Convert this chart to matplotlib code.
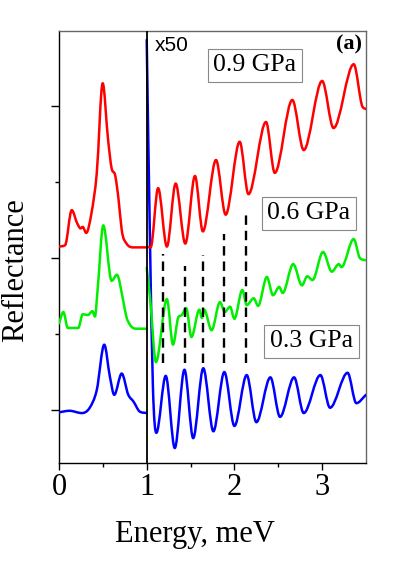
import numpy as np
import matplotlib
matplotlib.use("Agg")
import matplotlib.pyplot as plt
from matplotlib.path import Path
from matplotlib.patches import PathPatch

plt.rcParams["font.family"] = ["Liberation Serif", "DejaVu Serif"]

# ── DATA (energy in meV, reflectance in arb. units, curves offset) ───────────
# 0.3 GPa (blue)
blue_left_x = [0.0, 0.12, 0.26, 0.35, 0.43, 0.516, 0.58, 0.63, 0.715, 0.79, 0.85, 0.92, 1.0]
blue_left_y = [-0.03, -0.01, -0.04, 0.03, 0.26, 0.86, 0.44, 0.20, 0.48, 0.20, 0.11, -0.02, -0.04]
blue_right_x = [1.0, 1.035, 1.07, 1.11, 1.217, 1.32, 1.43, 1.53, 1.645, 1.76, 1.885, 2.0,
                2.14, 2.25, 2.41, 2.52, 2.68, 2.79, 2.98, 3.09, 3.29, 3.39, 3.5]
blue_right_y = [4.87, 2.37, 0.33, -0.30, 0.45, -0.50, 0.53, -0.37, 0.55, -0.28, 0.50, -0.21,
                0.46, -0.16, 0.43, -0.09, 0.43, -0.04, 0.46, 0.03, 0.49, 0.09, 0.20]

# 0.6 GPa (green)
green_left_x = [0.0, 0.05, 0.10, 0.22, 0.27, 0.33, 0.38, 0.41, 0.44, 0.505, 0.60, 0.66,
                0.73, 0.77, 0.81, 0.885, 1.0]
green_left_y = [1.14, 1.29, 1.08, 1.08, 1.26, 1.25, 1.30, 1.23, 1.58, 2.43, 1.70, 1.78,
                1.45, 1.22, 1.12, 1.07, 1.07]
green_right_x = [1.0, 1.04, 1.105, 1.23, 1.30, 1.36, 1.40, 1.45, 1.51, 1.60, 1.63, 1.655,
                 1.74, 1.835, 1.89, 1.95, 2.0, 2.09, 2.14, 2.22, 2.27, 2.37, 2.44, 2.51,
                 2.55, 2.67, 2.77, 2.83, 2.89, 3.01, 3.11, 3.19, 3.22, 3.36, 3.43, 3.5]
green_right_y = [1.87, 1.45, 0.63, 1.46, 0.86, 1.22, 1.25, 1.34, 0.96, 1.32, 1.21, 1.32,
                 1.05, 1.42, 1.29, 1.36, 1.20, 1.58, 1.38, 1.47, 1.37, 1.75, 1.51, 1.62,
                 1.54, 1.92, 1.64, 1.76, 1.71, 2.08, 1.82, 1.92, 1.88, 2.25, 2.00, 1.97]

# 0.9 GPa (red)
red_left_x = [0.0, 0.07, 0.145, 0.21, 0.245, 0.27, 0.31, 0.37, 0.43, 0.498, 0.56, 0.60,
              0.64, 0.68, 0.715, 0.77, 0.85, 1.0]
red_left_y = [2.15, 2.17, 2.63, 2.45, 2.39, 2.41, 2.33, 2.59, 3.11, 4.30, 3.55, 3.18,
              3.09, 2.76, 2.37, 2.19, 2.14, 2.14]
red_right_x = [1.0, 1.045, 1.13, 1.23, 1.33, 1.44, 1.55, 1.64, 1.79, 1.90, 2.06, 2.16,
               2.36, 2.46, 2.66, 2.79, 3.00, 3.13, 3.36, 3.46, 3.5]
red_right_y = [2.15, 2.14, 2.92, 2.15, 2.98, 2.19, 3.08, 2.35, 3.29, 2.57, 3.53, 2.84,
               3.79, 3.12, 4.08, 3.42, 4.33, 3.71, 4.55, 3.99, 3.96]

# dashed guide lines
dash_x = [1.19, 1.44, 1.645, 1.88, 2.13]
dash_top = [2.05, 1.89, 2.04, 2.32, 2.62]
dash_bottom = 0.62

labels = ["0.3 GPa", "0.6 GPa", "0.9 GPa"]
label_x = [2.881, 2.848, 2.235]
label_y = [0.905, 2.588, 4.535]


# ── helpers ───────────────────────────────────────────────────────────────────
def smooth_path(x, y):
    """Bezier path through the points (monotone cubic Hermite tangents)."""
    x = np.asarray(x, float)
    y = np.asarray(y, float)
    h = np.diff(x)
    d = np.diff(y) / h
    m = np.empty_like(y)
    m[0], m[-1] = d[0], d[-1]
    for i in range(1, len(y) - 1):
        if d[i - 1] * d[i] <= 0:
            m[i] = 0.0
        else:
            w = (d[i - 1] * h[i] + d[i] * h[i - 1]) / (h[i] + h[i - 1])
            lim = 3 * min(abs(d[i - 1]), abs(d[i]))
            m[i] = np.sign(w) * min(abs(w), lim)
    verts = [(x[0], y[0])]
    codes = [Path.MOVETO]
    for i in range(len(h)):
        verts += [(x[i] + h[i] / 3, y[i] + m[i] * h[i] / 3),
                  (x[i + 1] - h[i] / 3, y[i + 1] - m[i + 1] * h[i] / 3),
                  (x[i + 1], y[i + 1])]
        codes += [Path.CURVE4] * 3
    return Path(verts, codes)


def draw_curve(ax, x, y, color):
    ax.add_patch(PathPatch(smooth_path(x, y), fill=False, edgecolor=color,
                           lw=1.8, capstyle="round", joinstyle="round", zorder=3))


# ── FIGURE ────────────────────────────────────────────────────────────────────
fig = plt.figure(figsize=(4.07, 5.76), dpi=100)
ax = fig.add_axes([59 / 407, 1 - 463 / 576, 307 / 407, 432 / 576])

for xs, ys, c in [(blue_left_x, blue_left_y, "#0000ff"), (blue_right_x, blue_right_y, "#0000ff"),
                  (green_left_x, green_left_y, "#00ee00"), (green_right_x, green_right_y, "#00ee00"),
                  (red_left_x, red_left_y, "#ff0000"), (red_right_x, red_right_y, "#ff0000")]:
    draw_curve(ax, xs, ys, c)

ax.vlines(dash_x, dash_bottom, dash_top, colors="black", linestyles=(0, (4, 2.5)),
          lw=1.7, zorder=4)
ax.axvline(1.0, color="black", lw=1.3, zorder=5)

ax.set_xlim(0, 3.5)
ax.set_ylim(-0.697, 4.987)

ax.set_xticks([0, 1, 2, 3])
ax.set_xticks([0.5, 1.5, 2.5], minor=True)
ax.set_yticks([0, 2, 4])
ax.set_yticks([1, 3], minor=True)
ax.set_yticklabels([])
ax.tick_params(axis="both", which="major", direction="out", length=5, width=1,
               labelsize=22, pad=2, top=False, right=False)
ax.tick_params(axis="both", which="minor", direction="out", length=3, width=1,
               top=False, right=False)
ax.tick_params(axis="y", which="major", length=6)

for side in ["top", "right"]:
    ax.spines[side].set_color("#666666")
for side in ["left", "bottom"]:
    ax.spines[side].set_color("black")
for s in ax.spines.values():
    s.set_linewidth(1.0)

ax.set_xlabel("Energy, meV", fontsize=22)
ax.xaxis.set_label_coords(136 / 307, -57 / 432)
ax.xaxis.label.set_verticalalignment("top")
ax.set_ylabel("Reflectance", fontsize=22)
ax.yaxis.set_label_coords(-43 / 307, 193 / 432)
ax.yaxis.label.set_verticalalignment("center")

ax.text(1.095, 4.80, "x50", fontsize=15, family=["Liberation Sans", "DejaVu Sans"],
        ha="left", va="center")
ax.text(3.46, 4.94, "(a)", fontsize=16, fontweight="bold", ha="right", va="top")

for lab, lx, ly in zip(labels, label_x, label_y):
    ax.text(lx, ly, lab, fontsize=18.5, ha="center", va="center", zorder=6,
            bbox=dict(boxstyle="square,pad=0.22", fc="white", ec="#888888", lw=0.8))

fig.savefig("out.png", dpi=100)
